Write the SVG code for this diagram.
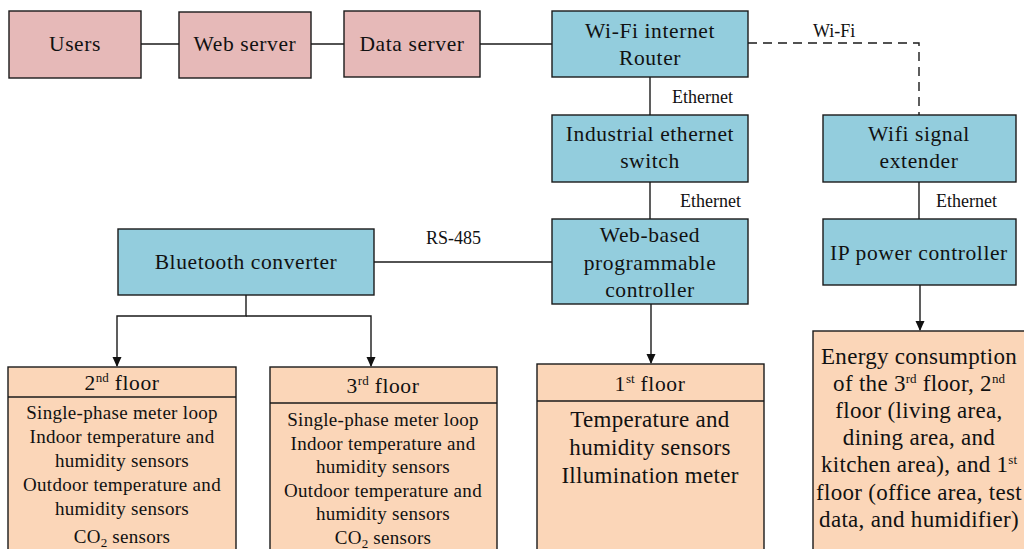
<svg xmlns="http://www.w3.org/2000/svg" width="1024" height="549" viewBox="0 0 1024 549">
  <style>
    .box { stroke: #1a1a1a; stroke-width: 1.4; }
    .pink { fill: #E6B9B8; }
    .blue { fill: #93CDDD; }
    .peach { fill: #FBD6B8; }
    .lbl { font-family: "Liberation Serif", "Times New Roman", serif; font-size: 21.5px; letter-spacing: 0.6px; fill: #111; text-anchor: middle; }
    .body { font-family: "Liberation Serif", "Times New Roman", serif; font-size: 19px; letter-spacing: 0.3px; fill: #111; text-anchor: middle; }
    .big { font-family: "Liberation Serif", "Times New Roman", serif; font-size: 23px; letter-spacing: 0.3px; fill: #111; text-anchor: middle; }
    .tag { font-family: "Liberation Serif", "Times New Roman", serif; font-size: 18px; fill: #111; }
    .wire { stroke: #1a1a1a; stroke-width: 1.4; fill: none; }
    .dash { stroke-dasharray: 9 6; }
    .sup { font-size: 13px; letter-spacing: 0; }
  </style>
  <defs>
    <marker id="arrow" markerWidth="10" markerHeight="10" refX="9" refY="5" orient="auto" markerUnits="userSpaceOnUse">
      <path d="M0,0.5 L10,5 L0,9.5 Z" fill="#111"/>
    </marker>
  </defs>

  <!-- links between devices -->
  <g id="connectors">
    <line class="wire" x1="141" y1="44" x2="179" y2="44"/>
    <line class="wire" x1="311" y1="44" x2="344" y2="44"/>
    <line class="wire" x1="480" y1="44" x2="552" y2="44"/>
    <polyline class="wire dash" points="748,43 919,43 919,115"/>
    <line class="wire" x1="650" y1="77" x2="650" y2="115"/>
    <line class="wire" x1="650" y1="182" x2="650" y2="219"/>
    <line class="wire" x1="919" y1="182" x2="919" y2="219"/>
    <line class="wire" x1="374" y1="262" x2="552" y2="262"/>
    <polyline class="wire" points="246,295 246,316 117,316 117,366" marker-end="url(#arrow)"/>
    <polyline class="wire" points="246,316 371,316 371,366" marker-end="url(#arrow)"/>
    <line class="wire" x1="651" y1="304" x2="651" y2="363" marker-end="url(#arrow)"/>
    <line class="wire" x1="920" y1="285" x2="920" y2="330" marker-end="url(#arrow)"/>
    <text class="tag" x="813" y="37">Wi-Fi</text>
    <text class="tag" x="672" y="103">Ethernet</text>
    <text class="tag" x="680" y="207">Ethernet</text>
    <text class="tag" x="936" y="207">Ethernet</text>
    <text class="tag" x="426" y="244">RS-485</text>
  </g>

  <g id="users">
    <rect class="box pink" x="9" y="11" width="132" height="67"/>
    <text class="lbl" x="75" y="51">Users</text>
  </g>
  <g id="web-server">
    <rect class="box pink" x="179" y="12" width="132" height="66"/>
    <text class="lbl" x="245" y="51">Web server</text>
  </g>
  <g id="data-server">
    <rect class="box pink" x="344" y="11" width="136" height="66"/>
    <text class="lbl" x="412" y="51">Data server</text>
  </g>
  <g id="router">
    <rect class="box blue" x="552" y="11" width="196" height="66"/>
    <text class="lbl" x="650" y="38">Wi-Fi internet</text>
    <text class="lbl" x="650" y="65">Router</text>
  </g>
  <g id="switch">
    <rect class="box blue" x="552" y="115" width="196" height="67"/>
    <text class="lbl" x="650" y="141">Industrial ethernet</text>
    <text class="lbl" x="650" y="168">switch</text>
  </g>
  <g id="extender">
    <rect class="box blue" x="823" y="115" width="193" height="67"/>
    <text class="lbl" x="919" y="141">Wifi signal</text>
    <text class="lbl" x="919" y="168">extender</text>
  </g>
  <g id="controller">
    <rect class="box blue" x="552" y="219" width="196" height="85"/>
    <text class="lbl" x="650" y="242">Web-based</text>
    <text class="lbl" x="650" y="270">programmable</text>
    <text class="lbl" x="650" y="297">controller</text>
  </g>
  <g id="ip-power">
    <rect class="box blue" x="823" y="219" width="193" height="66"/>
    <text class="lbl" x="919" y="260">IP power controller</text>
  </g>
  <g id="bluetooth">
    <rect class="box blue" x="118" y="229" width="256" height="66"/>
    <text class="lbl" x="246" y="269">Bluetooth converter</text>
  </g>

  <g id="floor2">
    <rect class="box peach" x="8" y="367" width="228" height="190"/>
    <line class="wire" x1="8" y1="397" x2="236" y2="397"/>
    <text class="lbl" x="122" y="390">2<tspan class="sup" dy="-8">nd</tspan><tspan dy="8"> floor</tspan></text>
    <text class="body" x="122" y="419">Single-phase meter loop</text>
    <text class="body" x="122" y="443">Indoor temperature and</text>
    <text class="body" x="122" y="467">humidity sensors</text>
    <text class="body" x="122" y="491">Outdoor temperature and</text>
    <text class="body" x="122" y="515">humidity sensors</text>
    <text class="body" x="122" y="543">CO<tspan class="sup" dy="4">2</tspan><tspan dy="-4"> sensors</tspan></text>
  </g>
  <g id="floor3">
    <rect class="box peach" x="270" y="367" width="227" height="190"/>
    <line class="wire" x1="270" y1="403" x2="497" y2="403"/>
    <text class="lbl" x="383" y="393">3<tspan class="sup" dy="-8">rd</tspan><tspan dy="8"> floor</tspan></text>
    <text class="body" x="383" y="426">Single-phase meter loop</text>
    <text class="body" x="383" y="450">Indoor temperature and</text>
    <text class="body" x="383" y="473">humidity sensors</text>
    <text class="body" x="383" y="497">Outdoor temperature and</text>
    <text class="body" x="383" y="520">humidity sensors</text>
    <text class="body" x="383" y="544">CO<tspan class="sup" dy="4">2</tspan><tspan dy="-4"> sensors</tspan></text>
  </g>
  <g id="floor1">
    <rect class="box peach" x="537" y="364" width="227" height="193"/>
    <line class="wire" x1="537" y1="401" x2="764" y2="401"/>
    <text class="lbl" x="650" y="391">1<tspan class="sup" dy="-8">st</tspan><tspan dy="8"> floor</tspan></text>
    <text class="big" x="650" y="427">Temperature and</text>
    <text class="big" x="650" y="455">humidity sensors</text>
    <text class="big" x="650" y="483">Illumination meter</text>
  </g>
  <g id="energy">
    <rect class="box peach" x="813" y="331" width="215" height="226"/>
    <text class="big" x="919" y="364">Energy consumption</text>
    <text class="big" x="919" y="391">of the 3<tspan class="sup" dy="-8">rd</tspan><tspan dy="8"> floor, 2</tspan><tspan class="sup" dy="-8">nd</tspan></text>
    <text class="big" x="919" y="418">floor (living area,</text>
    <text class="big" x="919" y="445">dining area, and</text>
    <text class="big" x="919" y="472">kitchen area), and 1<tspan class="sup" dy="-8">st</tspan></text>
    <text class="big" x="919" y="500">floor (office area, test</text>
    <text class="big" x="919" y="527">data, and humidifier)</text>
  </g>
</svg>
